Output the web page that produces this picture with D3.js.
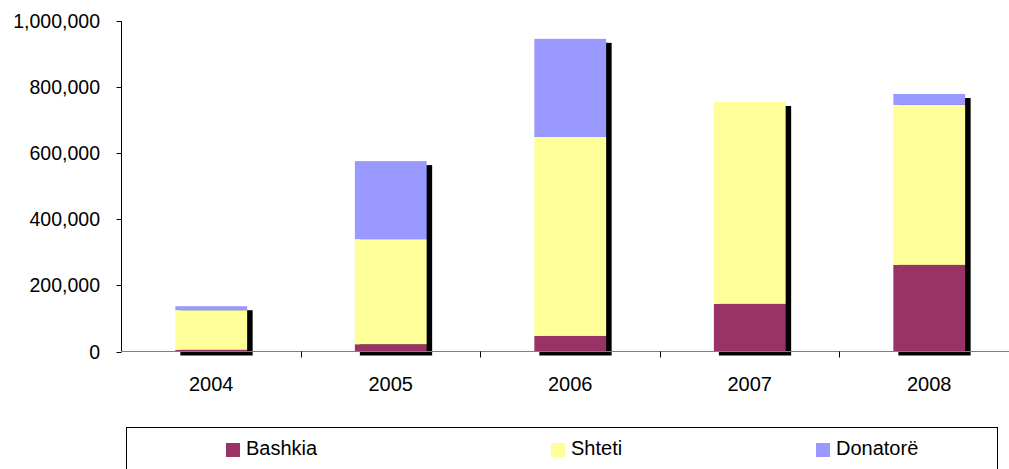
<!DOCTYPE html>
<html>
<head>
<meta charset="utf-8">
<script src="https://cdn.jsdelivr.net/npm/d3@7"></script>
<style>
  body { margin: 0; background: #fff; }
  svg { display: block; font-family: "Liberation Sans", Arial, sans-serif; }
</style>
</head>
<body>
<svg width="1009" height="469"></svg>
<script>
// Data
let years = ['2004', '2005', '2006', '2007', '2008']
let bashkia = [5000, 22000, 47000, 144000, 262000]
let shteti = [120000, 318000, 602000, 611000, 484000]
let donatore = [12000, 236000, 297000, 0, 33000]
let seriesNames = ['Bashkia', 'Shteti', 'Donatorë']
let seriesColors = ['#993366', '#FFFF99', '#9999FF']
let yTicks = [0, 200000, 400000, 600000, 800000, 1000000]

let rows = years.map((y, i) => ({
    year: y,
    Bashkia: bashkia[i],
    Shteti: shteti[i],
    'Donatorë': donatore[i]
}))

let stacked = d3.stack().keys(seriesNames)(rows)

let svg = d3.select('svg')
let plot = { left: 121.5, right: 1019, top: 21, bottom: 351.5 }

let scale = {
    x: d3.scaleBand().domain(years).range([plot.left, plot.right]).paddingInner(0.6).paddingOuter(0.3),
    y: d3.scaleLinear().domain([0, 1000000]).range([plot.bottom, plot.top])
}

let fmt = d3.format(',')
let bw = scale.x.bandwidth()
let step = scale.x.step()

// Shadows
svg.append('g')
    .selectAll('rect')
    .data(rows)
    .join('rect')
    .attr('x', d => scale.x(d.year) + 5)
    .attr('y', (d, i) => scale.y(bashkia[i] + shteti[i] + donatore[i]) + 4)
    .attr('width', bw + 0.5)
    .attr('height', (d, i) => plot.bottom - scale.y(bashkia[i] + shteti[i] + donatore[i]))
    .attr('fill', '#000')

// Bars
svg.append('g')
    .selectAll('g')
    .data(stacked)
    .join('g')
    .attr('fill', (d, i) => seriesColors[i])
    .selectAll('rect')
    .data(d => d)
    .join('rect')
    .attr('x', d => scale.x(d.data.year))
    .attr('y', d => scale.y(d[1]))
    .attr('width', bw)
    .attr('height', d => scale.y(d[0]) - scale.y(d[1]))

// Y axis
let gy = svg.append('g')
gy.append('line')
    .attr('x1', plot.left).attr('x2', plot.left)
    .attr('y1', plot.top).attr('y2', plot.bottom)
    .attr('stroke', '#000')
gy.selectAll('.tick')
    .data(yTicks)
    .join('line')
    .attr('class', 'tick')
    .attr('x1', plot.left - 5).attr('x2', plot.left)
    .attr('y1', d => Math.round(scale.y(d)) + 0.5)
    .attr('y2', d => Math.round(scale.y(d)) + 0.5)
    .attr('stroke', '#000')
gy.selectAll('text')
    .data(yTicks)
    .join('text')
    .attr('x', 100)
    .attr('y', d => scale.y(d))
    .attr('dy', '0.36em')
    .attr('text-anchor', 'end')
    .attr('font-size', 19.5)
    .attr('fill', '#000')
    .text(d => fmt(d))

// X axis
let gx = svg.append('g')
gx.append('line')
    .attr('x1', plot.left).attr('x2', plot.right)
    .attr('y1', plot.bottom).attr('y2', plot.bottom)
    .attr('stroke', '#808080')
gx.selectAll('.tick')
    .data(years.slice(1))
    .join('line')
    .attr('class', 'tick')
    .attr('x1', d => Math.round(scale.x(d) + bw / 2 - step / 2) + 0.5)
    .attr('x2', d => Math.round(scale.x(d) + bw / 2 - step / 2) + 0.5)
    .attr('y1', plot.bottom).attr('y2', plot.bottom + 6)
    .attr('stroke', '#000')
gx.selectAll('text')
    .data(years)
    .join('text')
    .attr('x', d => scale.x(d) + bw / 2)
    .attr('y', 391)
    .attr('text-anchor', 'middle')
    .attr('font-size', 20)
    .attr('fill', '#000')
    .text(d => d)

// Legend
let legend = svg.append('g')
legend.append('rect')
    .attr('x', 126.5).attr('y', 427.5)
    .attr('width', 871).attr('height', 60)
    .attr('fill', 'none')
    .attr('stroke', '#000')
let legendX = [226, 551, 816]
let item = legend.selectAll('.item')
    .data(seriesNames)
    .join('g')
    .attr('class', 'item')
    .attr('transform', (d, i) => `translate(${legendX[i]}, 443)`)
item.append('rect')
    .attr('width', 14).attr('height', 14)
    .attr('fill', (d, i) => seriesColors[i])
item.append('text')
    .attr('x', 20).attr('y', 12)
    .attr('font-size', 20)
    .attr('fill', '#000')
    .text(d => d)
</script>
</body>
</html>
